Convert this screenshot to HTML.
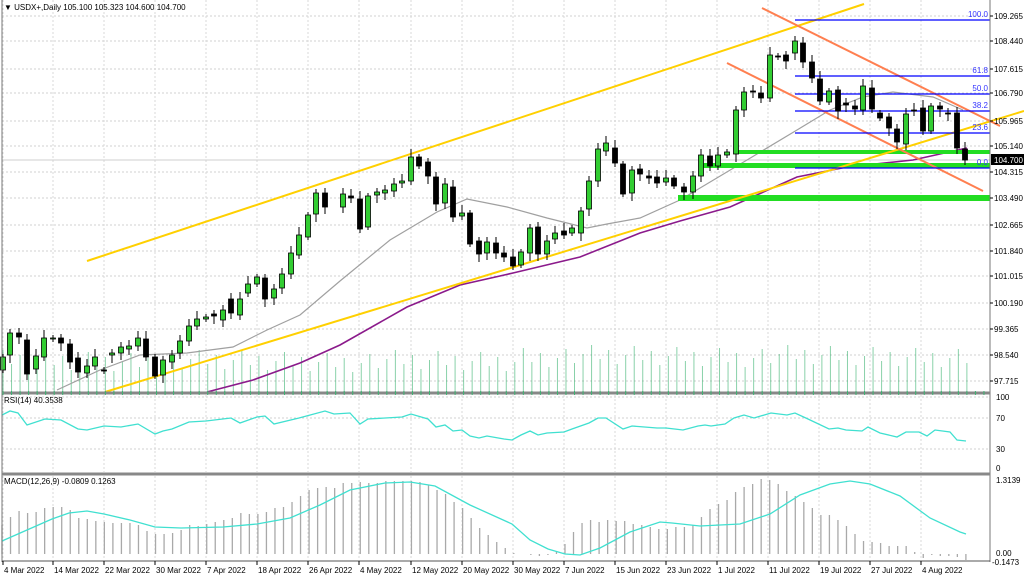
<!DOCTYPE html>
<html><head><meta charset="utf-8"><style>
html,body{margin:0;padding:0;background:#fff;width:1024px;height:576px;overflow:hidden}
svg{display:block;font-family:"Liberation Sans",sans-serif}
</style></head><body>
<svg id="s" width="1024" height="576" xmlns="http://www.w3.org/2000/svg"></svg>
<script>
const S=document.getElementById('s');let h='';
function L(x1,y1,x2,y2,c,w,extra){h+=`<line x1="${x1}" y1="${y1}" x2="${x2}" y2="${y2}" stroke="${c}" stroke-width="${w}" ${extra||''}/>`;}
function T(x,y,t,sz,c,anc){h+=`<text x="${x}" y="${y}" font-size="${sz}" fill="${c}" ${anc?'text-anchor="'+anc+'"':''}>${t}</text>`;}
function P(pts,c,w){h+=`<polyline fill="none" stroke="${c}" stroke-width="${w}" points="${pts.map(p=>p.join(',')).join(' ')}"/>`;}
const gy=[16,41,69,93,121,146,172,198,225,251,276,303,329,355,381];
const gl=['109.265','108.440','107.615','106.790','105.965','105.140','104.315','103.490','102.665','101.840','101.015','100.190','99.365','98.540','97.715'];
const xt=[[3,'4 Mar 2022'],[53,'14 Mar 2022'],[104,'22 Mar 2022'],[155,'30 Mar 2022'],[206,'7 Apr 2022'],[257,'18 Apr 2022'],[308,'26 Apr 2022'],[359,'4 May 2022'],[411,'12 May 2022'],[462,'20 May 2022'],[513,'30 May 2022'],[564,'7 Jun 2022'],[615,'15 Jun 2022'],[666,'23 Jun 2022'],[717,'1 Jul 2022'],[768,'11 Jul 2022'],[819,'19 Jul 2022'],[870,'27 Jul 2022'],[921,'4 Aug 2022']];
const dash='stroke-dasharray="2,2"';
gy.forEach(y=>L(2,y,990,y,'#d0d0d0',1,dash));
[397,418,449].forEach(y=>L(2,y,990,y,'#d0d0d0',1,dash));
xt.forEach(a=>{L(a[0],0,a[0],392,'#d8d8d8',1,dash);L(a[0],395,a[0],472,'#d8d8d8',1,dash);L(a[0],476,a[0],560,'#d8d8d8',1,dash);});
L(2,160,990,160,'#cfcfcf',1);
for(let i=0;i<114;i++){const x=3+i*8.53;const t=350+((i*37)%23)-(i>60?5:0);L(x,392,x,t,'#3cb371',1,'opacity="0.6"');}
P([[57,390],[100,370],[140,355],[187,353],[233,347],[267,330],[300,315],[340,281],[390,240],[437,212],[467,199],[507,207],[547,218],[587,228],[607,224],[640,218],[680,200],[747,160],[797,130],[830,110],[863,97],[893,92],[933,97],[963,110]],'#a0a0a0',1.2);
P([[207,392],[253,380],[300,363],[340,345],[407,307],[460,285],[513,273],[580,257],[640,233],[680,221],[730,207],[797,177],[847,167],[913,160],[967,148]],'#8b1a8b',1.6);
h+=`<rect x="735" y="150" width="255" height="4" fill="#22dd22"/><rect x="700" y="163" width="290" height="5" fill="#22dd22"/><rect x="678" y="195" width="312" height="6" fill="#22dd22"/>`;
L(87,261,864,4,'#ffd000',2);L(105,392,1024,111,'#ffd000',2);
L(762,8,1000,126,'#ff7f50',2);L(727,63,983,191,'#ff7f50',2);
[[20,'100.0'],[76,'61.8'],[94,'50.0'],[111,'38.2'],[133,'23.6'],[168,'0.0']].forEach(a=>{L(795,a[0],990,a[0],'#0000ff',1.3);T(988,a[0]-3,a[1],8,'#3333ff','end');});
const C=[[3,370,357,1],[10,355,333,1],[19,333,337,0],[27,340,374,0],[36,369,356,1],[44,357,338,1],[53,339,338,1],[61,338,343,0],[70,344,362,0],[78,358,372,0],[87,373,366,1],[95,366,357,1],[104,370,371,0],[112,355,353,1],[121,353,347,1],[129,349,346,1],[138,346,338,1],[146,339,357,0],[155,357,376,0],[163,375,360,1],[172,362,355,1],[180,353,341,1],[189,341,326,1],[197,326,319,1],[206,319,317,1],[214,314,316,0],[223,320,310,1],[231,299,313,0],[240,315,299,1],[248,293,284,1],[257,284,277,1],[265,278,299,0],[274,298,289,1],[282,288,274,1],[291,274,253,1],[299,255,235,1],[308,237,215,1],[316,214,193,1],[325,193,207,0],
[343,207,194,1],[351,196,198,0],[360,199,229,0],[368,227,196,1],[377,195,192,1],[385,193,190,1],[394,191,184,1],[402,183,181,1],[411,181,157,1],[419,157,166,0],[428,162,176,0],[436,177,204,0],[445,203,184,1],[453,187,217,0],[462,216,213,1],[470,213,244,0],[479,241,254,0],[487,253,242,1],[496,243,253,0],[504,253,257,0],[513,257,266,0],[521,265,252,1],[530,253,228,1],[538,227,254,0],[547,254,241,1],[555,239,233,1],[564,231,235,0],[572,233,228,1],[581,233,211,1],[589,209,181,1],[598,181,149,1],[606,151,143,1],[615,148,163,0],[623,164,194,0],[632,193,170,1],[640,169,174,0],[649,176,178,0],[657,177,183,0],[666,182,178,1],[674,178,186,0],
[684,187,192,0],[693,192,176,1],[701,176,155,1],[710,156,166,0],[718,166,155,1],[727,155,152,1],[736,154,110,1],[744,110,92,1],[753,91,92,0],[761,93,98,0],[770,98,55,1],[778,56,57,0],[786,55,61,0],[795,53,41,1],[803,43,62,0],[812,62,78,0],[820,79,101,0],[829,102,91,1],[838,90,111,0],[846,103,105,0],[855,106,109,0],[863,110,86,1],[872,88,109,0],[880,113,118,0],[889,117,128,0],[897,129,142,0],[906,144,114,1],[914,110,111,0],[923,108,131,0],[931,131,106,1],[940,106,109,0],[948,113,114,0],[957,113,148,0],[965,149,160,0]];
C.forEach((c,i)=>{const t=Math.min(c[1],c[2]),b=Math.max(c[1],c[2]);const hi=t-3-(i*7%6),lo=b+3+(i*5%6);L(c[0],hi,c[0],lo,'#000',1);h+=`<rect x="${c[0]-2.5}" y="${t}" width="5" height="${Math.max(b-t,1)}" fill="${c[3]?'#32cd32':'#000'}" stroke="#000" stroke-width="0.8"/>`;});
P([[2,415],[10,411],[18,413],[27,425],[45,419],[61,420],[78,429],[87,430],[104,426],[121,427],[138,424],[155,434],[163,431],[172,429],[189,422],[206,421],[231,418],[240,423],[257,417],[265,416],[274,424],[299,418],[325,411],[334,414],[350,413],[360,424],[368,419],[402,417],[411,414],[428,419],[436,427],[445,425],[453,431],[462,430],[470,436],[479,438],[487,436],[504,439],[512,440],[521,435],[530,431],[538,435],[547,433],[564,432],[572,429],[589,423],[598,418],[606,418],[623,429],[632,426],[657,428],[666,428],[683,430],[698,426],[705,425],[711,426],[725,424],[734,418],[744,415],[754,418],[771,413],[787,415],[795,413],[808,419],[829,429],[838,428],[846,430],[862,431],[868,427],[880,433],[897,437],[906,432],[919,432],[927,436],[935,430],[950,432],[957,440],[966,441]],'#40e0d0',1.3);
const MH=[525,517,511,513,512,508,507,507,510,518,519,521,522,523,523,523,525,531,534,534,533,530,525,526,524,522,520,518,513,514,514,512,508,507,502,496,490,488,487,488,483,483,482,483,483,481,481,481,481,482,485,490,494,502,508,518,528,535,542,548,553,554,555,556,555,552,544,532,523,520,522,520,521,521,524,525,527,529,529,527,527,525,517,509,504,500,492,487,484,479,480,484,491,496,502,508,515,515,520,526,534,541,542,543,546,546,546,552,558,555,556,556,557,560];
MH.forEach((v,i)=>{const x=2+i*8.53;L(x,554,x,v,'#a9a9a9',1.3);});
P([[2,541],[27,530],[52,519],[69,513],[87,511],[104,514],[130,520],[155,527],[181,528],[223,527],[257,524],[290,518],[320,505],[350,490],[385,483],[410,482],[435,486],[470,505],[512,524],[530,540],[548,549],[565,554],[580,555],[600,548],[630,532],[660,522],[672,523],[700,526],[740,524],[770,514],[800,495],[830,484],[850,481],[870,484],[900,496],[930,518],[960,532],[966,534]],'#40e0d0',1.3);
L(2,0,2,562,'#777',1);L(990,0,990,562,'#777',1);
L(2,393,990,393,'#888',3);L(2,474,990,474,'#888',3);L(2,561,990,561,'#555',1);
for(let i=0;i<116;i++){const x=3+i*8.53;L(x,391,x,395,'#3cb371',1);}
gy.forEach((y,i)=>{L(990,y,993,y,'#000',1);T(994,y+3,gl[i],8,'#000');});
T(996,400,'100',8,'#000');T(996,421,'70',8,'#000');T(996,452,'30',8,'#000');T(996,471,'0',8,'#000');
T(996,483,'1.3139',8,'#000');T(996,556,'0.00',8,'#000');T(992,565,'-0.1473',8,'#000');
h+=`<rect x="991" y="154" width="33" height="11" fill="#000"/>`;T(994,163,'104.700',8,'#fff');
xt.forEach(a=>{L(a[0],561,a[0],565,'#000',1);T(a[0]+1,573,a[1],8,'#000');});
T(4,10,'▼ USDX+,Daily  105.100 105.323 104.600 104.700',8,'#000');
T(4,403,'RSI(14) 40.3538',8,'#000');
T(4,484,'MACD(12,26,9) -0.0809 0.1263',8,'#000');
S.innerHTML=h;
</script>
</body></html>
